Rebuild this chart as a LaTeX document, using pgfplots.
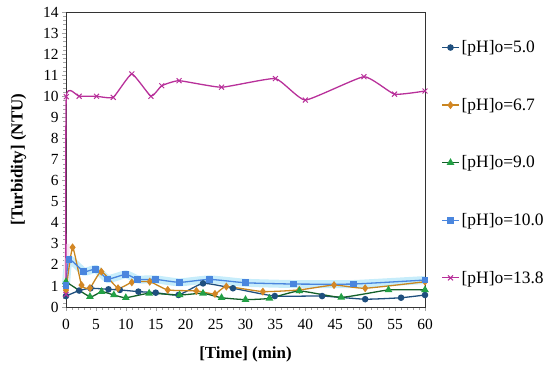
\documentclass[border=0pt]{standalone}
\usepackage{pgfplots}
\pgfplotsset{compat=1.18}
\usepackage{fontspec}
\setmainfont{Liberation Serif}
\definecolor{cA}{HTML}{1F4F7E}
\definecolor{cB}{HTML}{E8892E}
\definecolor{cC}{HTML}{22A045}
\definecolor{cD}{HTML}{4A86DE}
\definecolor{cE}{HTML}{B8309A}
\begin{document}
\begin{tikzpicture}
\begin{axis}[
  scale only axis, width=359bp, height=295bp,
  xmin=0, xmax=60, ymin=0, ymax=14,
  xtick={0,5,...,60}, ytick={0,1,...,14},
  minor x tick num=4, minor y tick num=4,
  tick pos=left, tick align=outside,
  major tick length=4bp, minor tick length=2.5bp,
  every tick/.style={gray!70},
  axis line style={black!80},
  /pgf/number format/assume math mode=true,
  ticklabel style={font=\fontsize{15.5}{17}\selectfont},
  xticklabel style={yshift=-5bp},
  xlabel={\textbf{[Time] (min)}},
  ylabel={\textbf{[Turbidity] (NTU)}},
  label style={font=\fontsize{17}{19}\selectfont},
  xlabel style={yshift=-10bp},
  ylabel style={yshift=10bp},
  legend style={at={(1.045,0.91)}, anchor=north west, draw=none, fill=none,
    font=\fontsize{17.5}{19}\selectfont, row sep=40bp, inner sep=0pt},
  legend cell align=left,
  clip=false,
]
\coordinate (SW) at (rel axis cs:0,0);
% cyan band behind blue series
\addplot[cyan!22, line width=8bp, forget plot, smooth, tension=0.3] coordinates {
(0,1.04)(0.5,2.26)(3,1.68)(5,1.80)(7,1.33)(10,1.55)(12,1.31)(15,1.31)(19,1.17)(24,1.31)(30,1.15)(38,1.09)(48,1.09)(60,1.28)};
\addplot[cE!12, line width=5bp, forget plot] coordinates {(0,0.6)(0.2,3)};
% 5.0
\addplot[cA, line width=1.3bp, mark=*, mark size=2.6bp, smooth, tension=0.3] coordinates {
(0,0.52)(2.2,0.78)(4.1,0.89)(7.1,0.84)(9,0.81)(12.1,0.73)(15,0.68)(18.8,0.57)(22.9,1.12)(27.9,0.89)(34.9,0.52)(42.8,0.52)(50,0.37)(56,0.44)(60,0.57)};
\addlegendentry{[pH]o=5.0}
% 6.7
\addplot[cB!70!olive, line width=1.3bp, mark=diamond*, mark size=3bp, mark options={fill=cB!80!olive, draw=cB!80!olive}, smooth, tension=0.3] coordinates {
(0,0.8)(1.1,2.83)(2.6,1.04)(4,0.9)(5.9,1.68)(8.7,0.89)(11,1.17)(14,1.2)(17,0.81)(21.8,0.76)(24.9,0.62)(26.8,0.97)(32.9,0.73)(39,0.81)(44.8,1.04)(50,0.89)(60,1.2)};
\addlegendentry{[pH]o=6.7}
% 9.0
\addplot[cC!60!black, line width=1.3bp, mark=triangle*, mark size=3.2bp, mark options={fill=cC, draw=cC}, smooth, tension=0.3] coordinates {
(0,1.2)(4,0.49)(5.95,0.73)(8,0.57)(10,0.44)(13.9,0.65)(19,0.57)(22.9,0.65)(26,0.44)(30,0.35)(34,0.41)(39,0.76)(46,0.46)(53.9,0.81)(60,0.81)};
\addlegendentry{[pH]o=9.0}
% 10.0
\addplot[cD, line width=1.3bp, mark=square*, mark size=2.8bp, smooth, tension=0.3] coordinates {
(0,1.04)(0.5,2.26)(3,1.68)(5,1.80)(7,1.33)(10,1.55)(12,1.31)(15,1.31)(19,1.17)(24,1.31)(30,1.15)(38,1.09)(48,1.09)(60,1.28)};
\addlegendentry{[pH]o=10.0}
% 13.8
\addplot[cE, line width=1.3bp, mark=x, mark size=3.5bp, mark options={line width=1bp}, smooth, tension=0.25] coordinates {
(0,0.6)(0.05,9.98)(2.2,10)(5.1,10)(7.9,9.95)(11,11.06)(14.2,10)(16,10.5)(18.9,10.74)(26,10.43)(35,10.84)(40,9.82)(49.8,10.93)(54.9,10.1)(60,10.25)};
\addlegendentry{[pH]o=13.8}
\end{axis}
\path[use as bounding box] (SW) ++(-66bp,-64bp) rectangle ++(550bp,371bp);
\end{tikzpicture}
\end{document}
